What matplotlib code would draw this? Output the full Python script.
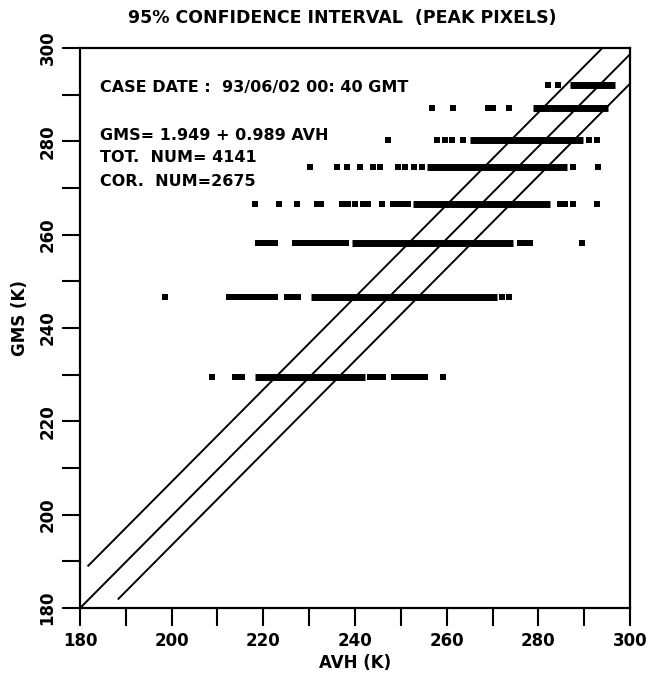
import matplotlib
matplotlib.use("Agg")
import matplotlib.pyplot as plt
from matplotlib.ticker import MultipleLocator

# ---- data ----
row_gms = [292.0, 287.1, 280.3, 274.4, 266.6, 258.2, 246.6, 229.4]

# dense runs of overlapping points (AVH start, AVH end) per row
row_dense = [
    (286.9, 296.7),
    (278.9, 295.3),
    (265.1, 289.8),
    (255.7, 286.3),
    (252.7, 282.6),
    (239.3, 274.5),
    (230.5, 270.9),
    (218.2, 242.2),
]

# isolated points per row (AVH)
row_points = [
    [282.1, 284.3],
    [256.7, 261.3, 269.1, 270.2, 273.7],
    [247.1, 257.8, 259.6, 261.1, 263.6, 291.0, 292.7],
    [230.2, 236.1, 238.2, 241.1, 244.0, 245.5, 249.3, 250.9, 252.9, 254.6, 287.6, 293.1],
    [218.2, 223.4, 227.3, 231.6, 232.5, 237.1, 238.5, 240.0, 241.8, 242.9, 245.8,
     248.3, 249.5, 250.6, 251.6, 284.7, 285.8, 287.6, 292.7],
    [218.9, 219.6, 220.3, 221.5, 222.5, 226.9, 228.0, 229.1, 230.2, 231.3, 232.4,
     233.5, 234.5, 235.6, 236.8, 238.0, 276.0, 277.1, 278.2, 289.5],
    [198.5, 212.4, 213.3, 214.2, 215.6, 216.8, 218.0, 219.2, 220.4, 221.5, 222.5,
     225.1, 226.2, 227.6, 272.0, 273.5],
    [208.9, 213.8, 214.6, 215.3, 243.3, 244.3, 245.2, 246.2, 248.4, 249.4, 250.4,
     251.4, 252.4, 253.2, 254.2, 255.3, 259.3],
]

intercept = 1.949
slope = 0.989
band_offsets = [7.3, 0.0, -6.3]
band_starts = [181.8, 180.0, 188.4]

x_ticks = [180, 200, 220, 240, 260, 280, 300]
y_ticks = [180, 200, 220, 240, 260, 280, 300]

title = "95% CONFIDENCE INTERVAL  (PEAK PIXELS)"
info_lines = [
    "CASE DATE :  93/06/02 00: 40 GMT",
    "GMS= 1.949 + 0.989 AVH",
    "TOT.  NUM= 4141",
    "COR.  NUM=2675",
]

# ---- figure ----
plt.rcParams["font.family"] = ["DejaVu Sans"]
plt.rcParams["font.weight"] = "bold"

fig = plt.figure(figsize=(6.48, 6.73), dpi=100)
ax = fig.add_axes([80 / 648, 1 - 608 / 673, 550 / 648, 560 / 673])

for g, (a, b), pts in zip(row_gms, row_dense, row_points):
    ax.plot([a, b], [g, g], color="black", lw=5.0, solid_capstyle="butt")
    ax.scatter(pts, [g] * len(pts), marker="s", s=15, color="black", linewidths=0)

for off, x0 in zip(band_offsets, band_starts):
    xs = [x0, 300.0]
    ys = [intercept + slope * x + off for x in xs]
    ax.plot(xs, ys, color="black", lw=1.4)

ax.set_xlim(180, 300)
ax.set_ylim(180, 300)
ax.set_xticks(x_ticks)
ax.set_yticks(y_ticks)
ax.xaxis.set_minor_locator(MultipleLocator(10))
ax.yaxis.set_minor_locator(MultipleLocator(10))
ax.tick_params(which="both", direction="out", length=13, width=1.5,
               top=False, right=False, labelsize=12)
ax.tick_params(axis="x", pad=4)
ax.tick_params(axis="y", pad=4)
for lab in ax.get_yticklabels():
    lab.set_rotation(90)
    lab.set_va("center")
for s in ax.spines.values():
    s.set_linewidth(1.6)

ys_txt = [0.930, 0.844, 0.8036, 0.761]
for t, yy in zip(info_lines, ys_txt):
    ax.text(0.036, yy, t, transform=ax.transAxes, fontsize=11.5,
            fontweight="bold", va="center", ha="left")

fig.text(342 / 648, 1 - 18 / 673, title, ha="center", va="center",
         fontsize=12.5, fontweight="bold")
fig.text(355 / 648, 1 - 663 / 673, "AVH (K)", ha="center", va="center",
         fontsize=12, fontweight="bold")
fig.text(20 / 648, 1 - 318 / 673, "GMS (K)", ha="center", va="center",
         fontsize=12, fontweight="bold", rotation=90)

fig.savefig("out.png", dpi=100)
